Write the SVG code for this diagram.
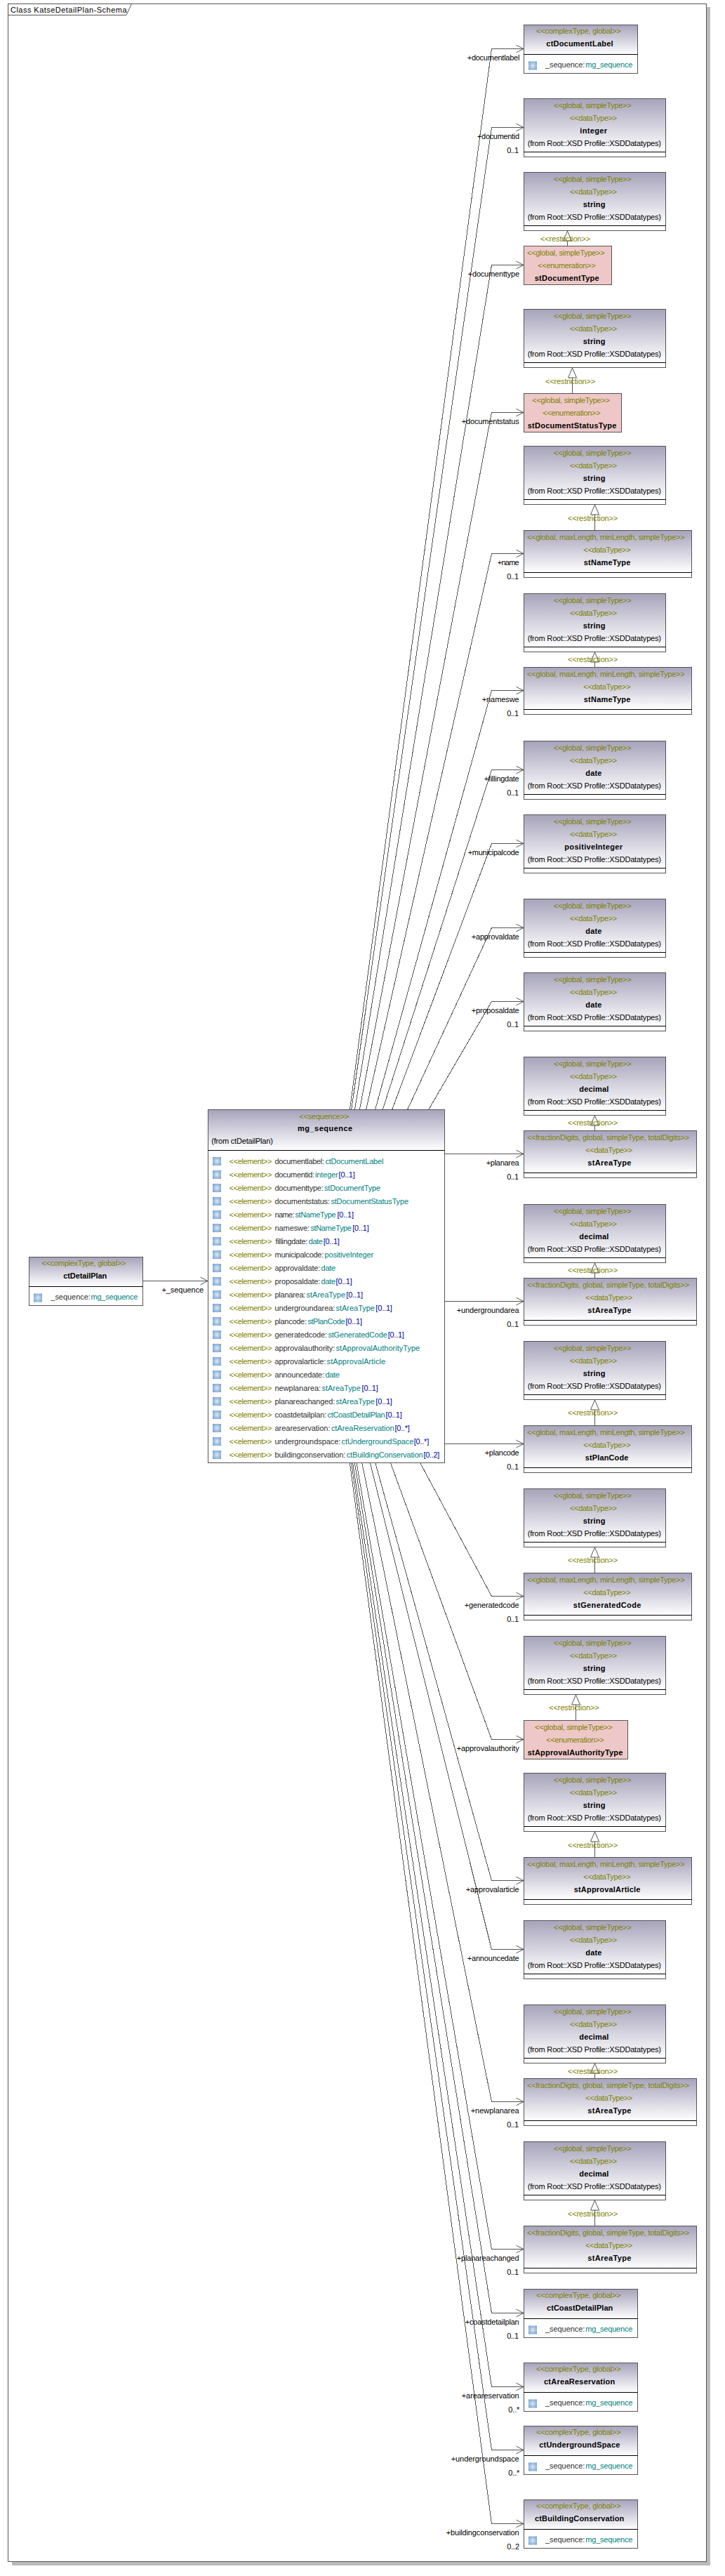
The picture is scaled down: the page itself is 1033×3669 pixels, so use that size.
<svg xmlns="http://www.w3.org/2000/svg" width="1033" height="3669" viewBox="0 0 1033 3669">
<style>
text{font-family:"Liberation Sans",Arial,sans-serif;font-size:11px;fill:#000}
.o{fill:#808000}.t{fill:#008080}.b{fill:#0000a0}.g{fill:#303030}.n{font-weight:bold}
.h{fill:url(#hdr);stroke:none}.r{fill:none;stroke:#555;stroke-width:1}.p{fill:#eec8c8;stroke:#555;stroke-width:1}
.s{stroke:#000;stroke-width:1}.i{fill:url(#ico);stroke:none;transform:translateY(.5px)}
.c{fill:none;stroke:#555;stroke-width:1;shape-rendering:crispEdges}.a{marker-end:url(#open)}.d{marker-end:url(#tri)}
</style>
<defs>
<linearGradient id="hdr" x1="0" y1="0" x2="0" y2="1"><stop offset="0" stop-color="#a6a3bb"/><stop offset="1" stop-color="#ffffff"/></linearGradient>
<radialGradient id="ico" cx=".5" cy=".5" r=".7"><stop offset="0" stop-color="#dbe7f4"/><stop offset="1" stop-color="#6a9ccf"/></radialGradient>
<marker id="open" markerUnits="userSpaceOnUse" markerWidth="14" markerHeight="14" refX="11" refY="7" orient="auto" overflow="visible"><path d="M0.5 1.7L11 7L0.5 12.3" fill="none" stroke="#555"/></marker>
<marker id="tri" markerUnits="userSpaceOnUse" markerWidth="16" markerHeight="16" refX="14" refY="7" orient="auto" overflow="visible"><path d="M14 7L0 1L0 13Z" fill="#fff" stroke="#555"/></marker>
</defs>
<g id="frame">
<rect x="1007" y="10" width="5" height="3644" fill="#bbb"/><rect x="17" y="3649" width="995" height="5" fill="#bbb"/>
<rect x="11.5" y="5.5" width="995" height="3643" fill="#fff" stroke="#555"/>
<path d="M11.5 21.5H180L187.5 5.5" fill="none" stroke="#555"/>
<text x="15" y="17.5" textLength="165.5">Class KatseDetailPlan-Schema</text>
</g>
<g id="connectors">
<path class="c a" d="M203.5 1824.5H296"/>
<path class="c a" d="M498.5 1580L700.5 69.5H746"/>
<path class="c a" d="M500.8 1580L700.5 181.5H746"/>
<path class="c a" d="M505.6 1580L700.5 377.5H746"/>
<path class="c a" d="M512.5 1580L700.5 587.5H746"/>
<path class="c a" d="M521.7 1580L700.5 788.5H746"/>
<path class="c a" d="M534.7 1580L700.5 983.5H746"/>
<path class="c a" d="M545.4 1580L700.5 1096.5H746"/>
<path class="c a" d="M558.8 1580L700.5 1201.5H746"/>
<path class="c a" d="M580.8 1580L700.5 1321.5H746"/>
<path class="c a" d="M610.9 1580L700.5 1426.5H746"/>
<path class="c a" d="M634 1643.5H746"/>
<path class="c a" d="M634 1853.5H746"/>
<path class="c a" d="M634 2056.5H746"/>
<path class="c a" d="M598.9 2084L700.5 2273.5H746"/>
<path class="c a" d="M556.6 2084L700.5 2477.5H746"/>
<path class="c a" d="M534.9 2084L700.5 2678.5H746"/>
<path class="c a" d="M527.6 2084L700.5 2776.5H746"/>
<path class="c a" d="M515.9 2084L700.5 2993.5H746"/>
<path class="c a" d="M508.1 2084L700.5 3203.5H746"/>
<path class="c a" d="M505.4 2084L700.5 3294.5H746"/>
<path class="c a" d="M502.7 2084L700.5 3399.5H746"/>
<path class="c a" d="M500.7 2084L700.5 3489.5H746"/>
<path class="c a" d="M498.5 2084L700.5 3594.5H746"/>
<path class="c d" d="M808.5 350V329"/>
<path class="c d" d="M815.5 560V524"/>
<path class="c d" d="M847.5 755V719"/>
<path class="c d" d="M847.5 950V929"/>
<path class="c d" d="M847.5 1610V1589"/>
<path class="c d" d="M847.5 1820V1799"/>
<path class="c d" d="M847.5 2030V1994"/>
<path class="c d" d="M847.5 2240V2204"/>
<path class="c d" d="M820.5 2450V2414"/>
<path class="c d" d="M847.5 2645V2609"/>
<path class="c d" d="M847.5 2960V2939"/>
<path class="c d" d="M847.5 3170V3134"/>
<text x="230.4" y="1840.7" textLength="59.8">+_sequence</text>
<text x="665.7" y="85.5" textLength="74.7">+documentlabel</text>
<text x="680" y="197.5" textLength="60">+documentid</text><text x="722.3" y="217.5" textLength="16.7">0..1</text>
<text x="666.7" y="393.5" textLength="73.3">+documenttype</text>
<text x="657.7" y="603.5" textLength="82">+documentstatus</text>
<text x="708.7" y="804.5" textLength="31">+name</text><text x="722.3" y="824.5" textLength="16.7">0..1</text>
<text x="686.7" y="999.5" textLength="53">+nameswe</text><text x="722.3" y="1019.5" textLength="16.7">0..1</text>
<text x="689.7" y="1112.5" textLength="50">+fillingdate</text><text x="722.3" y="1132.5" textLength="16.7">0..1</text>
<text x="666.7" y="1217.5" textLength="73">+municipalcode</text>
<text x="671.7" y="1337.5" textLength="68">+approvaldate</text>
<text x="671.7" y="1442.5" textLength="68">+proposaldate</text><text x="722.3" y="1462.5" textLength="16.7">0..1</text>
<text x="692.7" y="1659.5" textLength="47">+planarea</text><text x="722.3" y="1679.5" textLength="16.7">0..1</text>
<text x="650.7" y="1869.5" textLength="89">+undergroundarea</text><text x="722.3" y="1889.5" textLength="16.7">0..1</text>
<text x="690.7" y="2072.5" textLength="49">+plancode</text><text x="722.3" y="2092.5" textLength="16.7">0..1</text>
<text x="661.7" y="2289.5" textLength="78">+generatedcode</text><text x="722.3" y="2309.5" textLength="16.7">0..1</text>
<text x="650.7" y="2493.5" textLength="89">+approvalauthority</text>
<text x="663.7" y="2694.5" textLength="76">+approvalarticle</text>
<text x="665.7" y="2792.5" textLength="74">+announcedate</text>
<text x="670.7" y="3009.5" textLength="69">+newplanarea</text><text x="722.3" y="3029.5" textLength="16.7">0..1</text>
<text x="650.7" y="3219.5" textLength="89">+planareachanged</text><text x="722.3" y="3239.5" textLength="16.7">0..1</text>
<text x="662.7" y="3310.5" textLength="77">+coastdetailplan</text><text x="722.3" y="3330.5" textLength="16.7">0..1</text>
<text x="657.7" y="3415.5" textLength="82">+areareservation</text><text x="724.3" y="3435.5" textLength="16">0..*</text>
<text x="642.7" y="3505.5" textLength="97">+undergroundspace</text><text x="724.3" y="3525.5" textLength="16">0..*</text>
<text x="635.7" y="3610.5" textLength="104">+buildingconservation</text><text x="722.3" y="3630.5" textLength="17.7">0..2</text>
<text class="o" x="770" y="343.5" textLength="71.3">&lt;&lt;restriction&gt;&gt;</text>
<text class="o" x="777" y="546.5" textLength="71.3">&lt;&lt;restriction&gt;&gt;</text>
<text class="o" x="809" y="741.5" textLength="71.3">&lt;&lt;restriction&gt;&gt;</text>
<text class="o" x="809" y="943" textLength="71.3">&lt;&lt;restriction&gt;&gt;</text>
<text class="o" x="809" y="1603" textLength="71.3">&lt;&lt;restriction&gt;&gt;</text>
<text class="o" x="809" y="1813" textLength="71.3">&lt;&lt;restriction&gt;&gt;</text>
<text class="o" x="809" y="2016" textLength="71.3">&lt;&lt;restriction&gt;&gt;</text>
<text class="o" x="809" y="2226" textLength="71.3">&lt;&lt;restriction&gt;&gt;</text>
<text class="o" x="782.3" y="2436" textLength="71.3">&lt;&lt;restriction&gt;&gt;</text>
<text class="o" x="809" y="2631.5" textLength="71.3">&lt;&lt;restriction&gt;&gt;</text>
<text class="o" x="809" y="2953.5" textLength="71.3">&lt;&lt;restriction&gt;&gt;</text>
<text class="o" x="809" y="3156.5" textLength="71.3">&lt;&lt;restriction&gt;&gt;</text>
</g>
<g id="ctDetailPlan">
<rect x="41.5" y="1790.5" width="162" height="69" fill="#fff"/><rect class="h" x="41.5" y="1790.5" width="162" height="42"/><rect class="r" x="41.5" y="1790.5" width="162" height="69"/><path class="s" d="M41.5 1832.5H203.5"/>
<text class="o" x="59.4" y="1803.2" textLength="120.1">&lt;&lt;complexType, global&gt;&gt;</text>
<text class="n" x="90.2" y="1821.2" textLength="62">ctDetailPlan</text>
<rect class="i" x="48" y="1842" width="12" height="12"/>
<text class="g" x="72.3" y="1851.4" textLength="56.5">_sequence:</text><text class="t" x="129.5" y="1851.4" textLength="66.9">mg_sequence</text>
</g>
<g id="mg_sequence">
<rect x="296.5" y="1580.5" width="337" height="503" fill="#fff"/><rect class="h" x="296.5" y="1580.5" width="337" height="58"/><rect class="r" x="296.5" y="1580.5" width="337" height="503"/><path class="s" d="M296.5 1638.5H633.5"/>
<text class="o" x="426.3" y="1593.5" textLength="71">&lt;&lt;sequence&gt;&gt;</text>
<text class="n" x="424" y="1611" textLength="78.2">mg_sequence</text>
<text x="301.3" y="1629" textLength="87.5">(from ctDetailPlan)</text>
<g id="rows">
<rect class="i" x="303" y="1647.5" width="12" height="12"/><text class="o" x="326.8" y="1657.5" textLength="60.7">&lt;&lt;element&gt;&gt;</text><text class="g" x="391.5" y="1657.5" textLength="70.5">documentlabel:</text><text class="t" x="463.4" y="1657.5" textLength="83">ctDocumentLabel</text>
<rect class="i" x="303" y="1666.5" width="12" height="12"/><text class="o" x="326.8" y="1676.5" textLength="60.7">&lt;&lt;element&gt;&gt;</text><text class="g" x="391.5" y="1676.5" textLength="56.7">documentid:</text><text class="t" x="449" y="1676.5" textLength="33">integer</text><text class="b" x="482.6" y="1676.5" textLength="23.2">[0..1]</text>
<rect class="i" x="303" y="1685.5" width="12" height="12"/><text class="o" x="326.8" y="1695.5" textLength="60.7">&lt;&lt;element&gt;&gt;</text><text class="g" x="391.5" y="1695.5" textLength="69.2">documenttype:</text><text class="t" x="462" y="1695.5" textLength="80">stDocumentType</text>
<rect class="i" x="303" y="1704.5" width="12" height="12"/><text class="o" x="326.8" y="1714.5" textLength="60.7">&lt;&lt;element&gt;&gt;</text><text class="g" x="391.5" y="1714.5" textLength="78.5">documentstatus:</text><text class="t" x="471.4" y="1714.5" textLength="110.6">stDocumentStatusType</text>
<rect class="i" x="303" y="1723.5" width="12" height="12"/><text class="o" x="326.8" y="1733.5" textLength="60.7">&lt;&lt;element&gt;&gt;</text><text class="g" x="391.5" y="1733.5" textLength="27.7">name:</text><text class="t" x="420.5" y="1733.5" textLength="58.1">stNameType</text><text class="b" x="480.4" y="1733.5" textLength="23.6">[0..1]</text>
<rect class="i" x="303" y="1742.5" width="12" height="12"/><text class="o" x="326.8" y="1752.5" textLength="60.7">&lt;&lt;element&gt;&gt;</text><text class="g" x="391.5" y="1752.5" textLength="49.5">nameswe:</text><text class="t" x="442.4" y="1752.5" textLength="58.5">stNameType</text><text class="b" x="502.2" y="1752.5" textLength="23.7">[0..1]</text>
<rect class="i" x="303" y="1761.5" width="12" height="12"/><text class="o" x="326.8" y="1771.5" textLength="60.7">&lt;&lt;element&gt;&gt;</text><text class="g" x="392.4" y="1771.5" textLength="46">fillingdate:</text><text class="t" x="439.7" y="1771.5" textLength="20.1">date</text><text class="b" x="460.7" y="1771.5" textLength="23.2">[0..1]</text>
<rect class="i" x="303" y="1780.5" width="12" height="12"/><text class="o" x="326.8" y="1790.5" textLength="60.7">&lt;&lt;element&gt;&gt;</text><text class="g" x="391.5" y="1790.5" textLength="69.7">municipalcode:</text><text class="t" x="462.5" y="1790.5" textLength="69.6">positiveInteger</text>
<rect class="i" x="303" y="1799.5" width="12" height="12"/><text class="o" x="326.8" y="1809.5" textLength="60.7">&lt;&lt;element&gt;&gt;</text><text class="g" x="391.5" y="1809.5" textLength="64.8">approvaldate:</text><text class="t" x="457.6" y="1809.5" textLength="20.5">date</text>
<rect class="i" x="303" y="1818.5" width="12" height="12"/><text class="o" x="326.8" y="1828.5" textLength="60.7">&lt;&lt;element&gt;&gt;</text><text class="g" x="391.5" y="1828.5" textLength="64.8">proposaldate:</text><text class="t" x="457.6" y="1828.5" textLength="20.5">date</text><text class="b" x="478.6" y="1828.5" textLength="23.2">[0..1]</text>
<rect class="i" x="303" y="1837.5" width="12" height="12"/><text class="o" x="326.8" y="1847.5" textLength="60.7">&lt;&lt;element&gt;&gt;</text><text class="g" x="391.5" y="1847.5" textLength="43.8">planarea:</text><text class="t" x="436.6" y="1847.5" textLength="55.4">stAreaType</text><text class="b" x="493.3" y="1847.5" textLength="23.7">[0..1]</text>
<rect class="i" x="303" y="1856.5" width="12" height="12"/><text class="o" x="326.8" y="1866.5" textLength="60.7">&lt;&lt;element&gt;&gt;</text><text class="g" x="391.5" y="1866.5" textLength="85.7">undergroundarea:</text><text class="t" x="478.6" y="1866.5" textLength="55.3">stAreaType</text><text class="b" x="535.3" y="1866.5" textLength="23.6">[0..1]</text>
<rect class="i" x="303" y="1875.5" width="12" height="12"/><text class="o" x="326.8" y="1885.5" textLength="60.7">&lt;&lt;element&gt;&gt;</text><text class="g" x="391.5" y="1885.5" textLength="45.5">plancode:</text><text class="t" x="438.4" y="1885.5" textLength="53.1">stPlanCode</text><text class="b" x="492.4" y="1885.5" textLength="23.6">[0..1]</text>
<rect class="i" x="303" y="1894.5" width="12" height="12"/><text class="o" x="326.8" y="1904.5" textLength="60.7">&lt;&lt;element&gt;&gt;</text><text class="g" x="391.5" y="1904.5" textLength="74.5">generatedcode:</text><text class="t" x="467.4" y="1904.5" textLength="84.4">stGeneratedCode</text><text class="b" x="552.7" y="1904.5" textLength="23.2">[0..1]</text>
<rect class="i" x="303" y="1913.5" width="12" height="12"/><text class="o" x="326.8" y="1923.5" textLength="60.7">&lt;&lt;element&gt;&gt;</text><text class="g" x="391.5" y="1923.5" textLength="85.7">approvalauthority:</text><text class="t" x="478.6" y="1923.5" textLength="119.6">stApprovalAuthorityType</text>
<rect class="i" x="303" y="1932.5" width="12" height="12"/><text class="o" x="326.8" y="1942.5" textLength="60.7">&lt;&lt;element&gt;&gt;</text><text class="g" x="391.5" y="1942.5" textLength="72.8">approvalarticle:</text><text class="t" x="465.6" y="1942.5" textLength="83.5">stApprovalArticle</text>
<rect class="i" x="303" y="1951.5" width="12" height="12"/><text class="o" x="326.8" y="1961.5" textLength="60.7">&lt;&lt;element&gt;&gt;</text><text class="g" x="391.5" y="1961.5" textLength="70.5">announcedate:</text><text class="t" x="463.4" y="1961.5" textLength="20.5">date</text>
<rect class="i" x="303" y="1970.5" width="12" height="12"/><text class="o" x="326.8" y="1980.5" textLength="60.7">&lt;&lt;element&gt;&gt;</text><text class="g" x="391.5" y="1980.5" textLength="65.6">newplanarea:</text><text class="t" x="458.5" y="1980.5" textLength="55.3">stAreaType</text><text class="b" x="515.6" y="1980.5" textLength="23.2">[0..1]</text>
<rect class="i" x="303" y="1989.5" width="12" height="12"/><text class="o" x="326.8" y="1999.5" textLength="60.7">&lt;&lt;element&gt;&gt;</text><text class="g" x="391.5" y="1999.5" textLength="85.7">planareachanged:</text><text class="t" x="478.6" y="1999.5" textLength="55.3">stAreaType</text><text class="b" x="535.3" y="1999.5" textLength="23.6">[0..1]</text>
<rect class="i" x="303" y="2008.5" width="12" height="12"/><text class="o" x="326.8" y="2018.5" textLength="60.7">&lt;&lt;element&gt;&gt;</text><text class="g" x="391.5" y="2018.5" textLength="73.7">coastdetailplan:</text><text class="t" x="466.5" y="2018.5" textLength="82.2">ctCoastDetailPlan</text><text class="b" x="549.6" y="2018.5" textLength="23.2">[0..1]</text>
<rect class="i" x="303" y="2027.5" width="12" height="12"/><text class="o" x="326.8" y="2037.5" textLength="60.7">&lt;&lt;element&gt;&gt;</text><text class="g" x="391.5" y="2037.5" textLength="79">areareservation:</text><text class="t" x="471.9" y="2037.5" textLength="89.7">ctAreaReservation</text><text class="b" x="562.5" y="2037.5" textLength="21.4">[0..*]</text>
<rect class="i" x="303" y="2046.5" width="12" height="12"/><text class="o" x="326.8" y="2056.5" textLength="60.7">&lt;&lt;element&gt;&gt;</text><text class="g" x="391.5" y="2056.5" textLength="93.8">undergroundspace:</text><text class="t" x="486.6" y="2056.5" textLength="102.7">ctUndergroundSpace</text><text class="b" x="589.7" y="2056.5" textLength="21.5">[0..*]</text>
<rect class="i" x="303" y="2065.5" width="12" height="12"/><text class="o" x="326.8" y="2075.5" textLength="60.7">&lt;&lt;element&gt;&gt;</text><text class="g" x="391.5" y="2075.5" textLength="100.9">buildingconservation:</text><text class="t" x="493.8" y="2075.5" textLength="108.9">ctBuildingConservation</text><text class="b" x="603.6" y="2075.5" textLength="22.7">[0..2]</text>
</g>
</g>
<g id="ctDocumentLabel">
<rect x="746.5" y="35.5" width="162" height="69" fill="#fff"/><rect class="h" x="746.5" y="35.5" width="162" height="42"/><rect class="r" x="746.5" y="35.5" width="162" height="69"/><path class="s" d="M746.5 77.5H908.5"/>
<text class="o" x="764" y="48" textLength="120.7">&lt;&lt;complexType, global&gt;&gt;</text><text class="n" x="778.3" y="66" textLength="95.3">ctDocumentLabel</text>
<rect class="i" x="753" y="87" width="12" height="12"/><text class="g" x="777" y="96" textLength="56.3">_sequence:</text><text class="t" x="834.3" y="96" textLength="67">mg_sequence</text>
</g>
<g id="integer">
<rect x="746.5" y="140.5" width="202" height="83" fill="#fff"/><rect class="h" x="746.5" y="140.5" width="202" height="76"/><rect class="r" x="746.5" y="140.5" width="202" height="83"/><path class="s" d="M746.5 216.5H948.5"/>
<text class="o" x="789" y="153.5" textLength="110.7">&lt;&lt;global, simpleType&gt;&gt;</text><text class="o" x="812" y="171.5" textLength="67.3">&lt;&lt;dataType&gt;&gt;</text><text class="n" x="826.3" y="189.5" textLength="38.7">integer</text><text x="751.7" y="207.5" textLength="190.3">(from Root::XSD Profile::XSDDatatypes)</text>
</g>
<g id="string1">
<rect x="746.5" y="245.5" width="202" height="83" fill="#fff"/><rect class="h" x="746.5" y="245.5" width="202" height="76"/><rect class="r" x="746.5" y="245.5" width="202" height="83"/><path class="s" d="M746.5 321.5H948.5"/>
<text class="o" x="789" y="258.5" textLength="110.7">&lt;&lt;global, simpleType&gt;&gt;</text><text class="o" x="812" y="276.5" textLength="67.3">&lt;&lt;dataType&gt;&gt;</text><text class="n" x="830.7" y="294.5" textLength="31.7">string</text><text x="751.7" y="312.5" textLength="190.3">(from Root::XSD Profile::XSDDatatypes)</text>
</g>
<g id="stDocumentType">
<rect class="p" x="746.5" y="350.5" width="125" height="55"/>
<text class="o" x="751" y="363.5" textLength="110.7">&lt;&lt;global, simpleType&gt;&gt;</text><text class="o" x="766.3" y="381.5" textLength="82.3">&lt;&lt;enumeration&gt;&gt;</text><text class="n" x="761.7" y="399.5" textLength="92">stDocumentType</text>
</g>
<g id="string2">
<rect x="746.5" y="440.5" width="202" height="83" fill="#fff"/><rect class="h" x="746.5" y="440.5" width="202" height="76"/><rect class="r" x="746.5" y="440.5" width="202" height="83"/><path class="s" d="M746.5 516.5H948.5"/>
<text class="o" x="789" y="453.5" textLength="110.7">&lt;&lt;global, simpleType&gt;&gt;</text><text class="o" x="812" y="471.5" textLength="67.3">&lt;&lt;dataType&gt;&gt;</text><text class="n" x="830.7" y="489.5" textLength="31.7">string</text><text x="751.7" y="507.5" textLength="190.3">(from Root::XSD Profile::XSDDatatypes)</text>
</g>
<g id="stDocumentStatusType">
<rect class="p" x="746.5" y="560.5" width="139" height="55"/>
<text class="o" x="758.3" y="573.5" textLength="110.7">&lt;&lt;global, simpleType&gt;&gt;</text><text class="o" x="773.3" y="591.5" textLength="82.3">&lt;&lt;enumeration&gt;&gt;</text><text class="n" x="751.7" y="609.5" textLength="126.7">stDocumentStatusType</text>
</g>
<g id="string3">
<rect x="746.5" y="635.5" width="202" height="83" fill="#fff"/><rect class="h" x="746.5" y="635.5" width="202" height="76"/><rect class="r" x="746.5" y="635.5" width="202" height="83"/><path class="s" d="M746.5 711.5H948.5"/>
<text class="o" x="789" y="648.5" textLength="110.7">&lt;&lt;global, simpleType&gt;&gt;</text><text class="o" x="812" y="666.5" textLength="67.3">&lt;&lt;dataType&gt;&gt;</text><text class="n" x="830.7" y="684.5" textLength="31.7">string</text><text x="751.7" y="702.5" textLength="190.3">(from Root::XSD Profile::XSDDatatypes)</text>
</g>
<g id="stNameType1">
<rect x="746.5" y="755.5" width="239" height="67" fill="#fff"/><rect class="h" x="746.5" y="755.5" width="239" height="60"/><rect class="r" x="746.5" y="755.5" width="239" height="67"/><path class="s" d="M746.5 815.5H985.5"/>
<text class="o" x="751" y="768.5" textLength="224.7">&lt;&lt;global, maxLength, minLength, simpleType&gt;&gt;</text><text class="o" x="831.3" y="786.5" textLength="67.3">&lt;&lt;dataType&gt;&gt;</text><text class="n" x="831.7" y="804.5" textLength="66.7">stNameType</text>
</g>
<g id="string4">
<rect x="746.5" y="845.5" width="202" height="83" fill="#fff"/><rect class="h" x="746.5" y="845.5" width="202" height="76"/><rect class="r" x="746.5" y="845.5" width="202" height="83"/><path class="s" d="M746.5 921.5H948.5"/>
<text class="o" x="789" y="858.5" textLength="110.7">&lt;&lt;global, simpleType&gt;&gt;</text><text class="o" x="812" y="876.5" textLength="67.3">&lt;&lt;dataType&gt;&gt;</text><text class="n" x="830.7" y="894.5" textLength="31.7">string</text><text x="751.7" y="912.5" textLength="190.3">(from Root::XSD Profile::XSDDatatypes)</text>
</g>
<g id="stNameType2">
<rect x="746.5" y="950.5" width="239" height="67" fill="#fff"/><rect class="h" x="746.5" y="950.5" width="239" height="60"/><rect class="r" x="746.5" y="950.5" width="239" height="67"/><path class="s" d="M746.5 1010.5H985.5"/>
<text class="o" x="751" y="963.5" textLength="224.7">&lt;&lt;global, maxLength, minLength, simpleType&gt;&gt;</text><text class="o" x="831.3" y="981.5" textLength="67.3">&lt;&lt;dataType&gt;&gt;</text><text class="n" x="831.7" y="999.5" textLength="66.7">stNameType</text>
</g>
<g id="date1">
<rect x="746.5" y="1055.5" width="202" height="83" fill="#fff"/><rect class="h" x="746.5" y="1055.5" width="202" height="76"/><rect class="r" x="746.5" y="1055.5" width="202" height="83"/><path class="s" d="M746.5 1131.5H948.5"/>
<text class="o" x="789" y="1068.5" textLength="110.7">&lt;&lt;global, simpleType&gt;&gt;</text><text class="o" x="812" y="1086.5" textLength="67.3">&lt;&lt;dataType&gt;&gt;</text><text class="n" x="834.3" y="1104.5" textLength="23">date</text><text x="751.7" y="1122.5" textLength="190.3">(from Root::XSD Profile::XSDDatatypes)</text>
</g>
<g id="positiveInteger">
<rect x="746.5" y="1160.5" width="202" height="83" fill="#fff"/><rect class="h" x="746.5" y="1160.5" width="202" height="76"/><rect class="r" x="746.5" y="1160.5" width="202" height="83"/><path class="s" d="M746.5 1236.5H948.5"/>
<text class="o" x="789" y="1173.5" textLength="110.7">&lt;&lt;global, simpleType&gt;&gt;</text><text class="o" x="812" y="1191.5" textLength="67.3">&lt;&lt;dataType&gt;&gt;</text><text class="n" x="804.3" y="1209.5" textLength="82.7">positiveInteger</text><text x="751.7" y="1227.5" textLength="190.3">(from Root::XSD Profile::XSDDatatypes)</text>
</g>
<g id="date2">
<rect x="746.5" y="1280.5" width="202" height="83" fill="#fff"/><rect class="h" x="746.5" y="1280.5" width="202" height="76"/><rect class="r" x="746.5" y="1280.5" width="202" height="83"/><path class="s" d="M746.5 1356.5H948.5"/>
<text class="o" x="789" y="1293.5" textLength="110.7">&lt;&lt;global, simpleType&gt;&gt;</text><text class="o" x="812" y="1311.5" textLength="67.3">&lt;&lt;dataType&gt;&gt;</text><text class="n" x="834.3" y="1329.5" textLength="23">date</text><text x="751.7" y="1347.5" textLength="190.3">(from Root::XSD Profile::XSDDatatypes)</text>
</g>
<g id="date3">
<rect x="746.5" y="1385.5" width="202" height="83" fill="#fff"/><rect class="h" x="746.5" y="1385.5" width="202" height="76"/><rect class="r" x="746.5" y="1385.5" width="202" height="83"/><path class="s" d="M746.5 1461.5H948.5"/>
<text class="o" x="789" y="1398.5" textLength="110.7">&lt;&lt;global, simpleType&gt;&gt;</text><text class="o" x="812" y="1416.5" textLength="67.3">&lt;&lt;dataType&gt;&gt;</text><text class="n" x="834.3" y="1434.5" textLength="23">date</text><text x="751.7" y="1452.5" textLength="190.3">(from Root::XSD Profile::XSDDatatypes)</text>
</g>
<g id="decimal1">
<rect x="746.5" y="1505.5" width="202" height="83" fill="#fff"/><rect class="h" x="746.5" y="1505.5" width="202" height="76"/><rect class="r" x="746.5" y="1505.5" width="202" height="83"/><path class="s" d="M746.5 1581.5H948.5"/>
<text class="o" x="789" y="1518.5" textLength="110.7">&lt;&lt;global, simpleType&gt;&gt;</text><text class="o" x="812" y="1536.5" textLength="67.3">&lt;&lt;dataType&gt;&gt;</text><text class="n" x="825.3" y="1554.5" textLength="42">decimal</text><text x="751.7" y="1572.5" textLength="190.3">(from Root::XSD Profile::XSDDatatypes)</text>
</g>
<g id="stAreaType1">
<rect x="746.5" y="1610.5" width="246" height="67" fill="#fff"/><rect class="h" x="746.5" y="1610.5" width="246" height="60"/><rect class="r" x="746.5" y="1610.5" width="246" height="67"/><path class="s" d="M746.5 1670.5H992.5"/>
<text class="o" x="751" y="1623.5" textLength="231.3">&lt;&lt;fractionDigits, global, simpleType, totalDigits&gt;&gt;</text><text class="o" x="834.3" y="1641.5" textLength="67">&lt;&lt;dataType&gt;&gt;</text><text class="n" x="837.3" y="1659.5" textLength="62">stAreaType</text>
</g>
<g id="decimal2">
<rect x="746.5" y="1715.5" width="202" height="83" fill="#fff"/><rect class="h" x="746.5" y="1715.5" width="202" height="76"/><rect class="r" x="746.5" y="1715.5" width="202" height="83"/><path class="s" d="M746.5 1791.5H948.5"/>
<text class="o" x="789" y="1728.5" textLength="110.7">&lt;&lt;global, simpleType&gt;&gt;</text><text class="o" x="812" y="1746.5" textLength="67.3">&lt;&lt;dataType&gt;&gt;</text><text class="n" x="825.3" y="1764.5" textLength="42">decimal</text><text x="751.7" y="1782.5" textLength="190.3">(from Root::XSD Profile::XSDDatatypes)</text>
</g>
<g id="stAreaType2">
<rect x="746.5" y="1820.5" width="246" height="67" fill="#fff"/><rect class="h" x="746.5" y="1820.5" width="246" height="60"/><rect class="r" x="746.5" y="1820.5" width="246" height="67"/><path class="s" d="M746.5 1880.5H992.5"/>
<text class="o" x="751" y="1833.5" textLength="231.3">&lt;&lt;fractionDigits, global, simpleType, totalDigits&gt;&gt;</text><text class="o" x="834.3" y="1851.5" textLength="67">&lt;&lt;dataType&gt;&gt;</text><text class="n" x="837.3" y="1869.5" textLength="62">stAreaType</text>
</g>
<g id="string5">
<rect x="746.5" y="1910.5" width="202" height="83" fill="#fff"/><rect class="h" x="746.5" y="1910.5" width="202" height="76"/><rect class="r" x="746.5" y="1910.5" width="202" height="83"/><path class="s" d="M746.5 1986.5H948.5"/>
<text class="o" x="789" y="1923.5" textLength="110.7">&lt;&lt;global, simpleType&gt;&gt;</text><text class="o" x="812" y="1941.5" textLength="67.3">&lt;&lt;dataType&gt;&gt;</text><text class="n" x="830.7" y="1959.5" textLength="31.7">string</text><text x="751.7" y="1977.5" textLength="190.3">(from Root::XSD Profile::XSDDatatypes)</text>
</g>
<g id="stPlanCode">
<rect x="746.5" y="2030.5" width="239" height="67" fill="#fff"/><rect class="h" x="746.5" y="2030.5" width="239" height="60"/><rect class="r" x="746.5" y="2030.5" width="239" height="67"/><path class="s" d="M746.5 2090.5H985.5"/>
<text class="o" x="751" y="2043.5" textLength="224.7">&lt;&lt;global, maxLength, minLength, simpleType&gt;&gt;</text><text class="o" x="831.3" y="2061.5" textLength="67.3">&lt;&lt;dataType&gt;&gt;</text><text class="n" x="833.7" y="2079.5" textLength="61.7">stPlanCode</text>
</g>
<g id="string6">
<rect x="746.5" y="2120.5" width="202" height="83" fill="#fff"/><rect class="h" x="746.5" y="2120.5" width="202" height="76"/><rect class="r" x="746.5" y="2120.5" width="202" height="83"/><path class="s" d="M746.5 2196.5H948.5"/>
<text class="o" x="789" y="2133.5" textLength="110.7">&lt;&lt;global, simpleType&gt;&gt;</text><text class="o" x="812" y="2151.5" textLength="67.3">&lt;&lt;dataType&gt;&gt;</text><text class="n" x="830.7" y="2169.5" textLength="31.7">string</text><text x="751.7" y="2187.5" textLength="190.3">(from Root::XSD Profile::XSDDatatypes)</text>
</g>
<g id="stGeneratedCode">
<rect x="746.5" y="2240.5" width="239" height="67" fill="#fff"/><rect class="h" x="746.5" y="2240.5" width="239" height="60"/><rect class="r" x="746.5" y="2240.5" width="239" height="67"/><path class="s" d="M746.5 2300.5H985.5"/>
<text class="o" x="751" y="2253.5" textLength="224.7">&lt;&lt;global, maxLength, minLength, simpleType&gt;&gt;</text><text class="o" x="831.3" y="2271.5" textLength="67.3">&lt;&lt;dataType&gt;&gt;</text><text class="n" x="816.7" y="2289.5" textLength="96.7">stGeneratedCode</text>
</g>
<g id="string7">
<rect x="746.5" y="2330.5" width="202" height="83" fill="#fff"/><rect class="h" x="746.5" y="2330.5" width="202" height="76"/><rect class="r" x="746.5" y="2330.5" width="202" height="83"/><path class="s" d="M746.5 2406.5H948.5"/>
<text class="o" x="789" y="2343.5" textLength="110.7">&lt;&lt;global, simpleType&gt;&gt;</text><text class="o" x="812" y="2361.5" textLength="67.3">&lt;&lt;dataType&gt;&gt;</text><text class="n" x="830.7" y="2379.5" textLength="31.7">string</text><text x="751.7" y="2397.5" textLength="190.3">(from Root::XSD Profile::XSDDatatypes)</text>
</g>
<g id="stApprovalAuthorityType">
<rect class="p" x="746.5" y="2450.5" width="148" height="55"/>
<text class="o" x="762" y="2463.5" textLength="110.7">&lt;&lt;global, simpleType&gt;&gt;</text><text class="o" x="778.3" y="2481.5" textLength="82.3">&lt;&lt;enumeration&gt;&gt;</text><text class="n" x="751.7" y="2499.5" textLength="135.7">stApprovalAuthorityType</text>
</g>
<g id="string8">
<rect x="746.5" y="2525.5" width="202" height="83" fill="#fff"/><rect class="h" x="746.5" y="2525.5" width="202" height="76"/><rect class="r" x="746.5" y="2525.5" width="202" height="83"/><path class="s" d="M746.5 2601.5H948.5"/>
<text class="o" x="789" y="2538.5" textLength="110.7">&lt;&lt;global, simpleType&gt;&gt;</text><text class="o" x="812" y="2556.5" textLength="67.3">&lt;&lt;dataType&gt;&gt;</text><text class="n" x="830.7" y="2574.5" textLength="31.7">string</text><text x="751.7" y="2592.5" textLength="190.3">(from Root::XSD Profile::XSDDatatypes)</text>
</g>
<g id="stApprovalArticle">
<rect x="746.5" y="2645.5" width="239" height="67" fill="#fff"/><rect class="h" x="746.5" y="2645.5" width="239" height="60"/><rect class="r" x="746.5" y="2645.5" width="239" height="67"/><path class="s" d="M746.5 2705.5H985.5"/>
<text class="o" x="751" y="2658.5" textLength="224.7">&lt;&lt;global, maxLength, minLength, simpleType&gt;&gt;</text><text class="o" x="831.3" y="2676.5" textLength="67.3">&lt;&lt;dataType&gt;&gt;</text><text class="n" x="817.7" y="2694.5" textLength="94.7">stApprovalArticle</text>
</g>
<g id="date4">
<rect x="746.5" y="2735.5" width="202" height="83" fill="#fff"/><rect class="h" x="746.5" y="2735.5" width="202" height="76"/><rect class="r" x="746.5" y="2735.5" width="202" height="83"/><path class="s" d="M746.5 2811.5H948.5"/>
<text class="o" x="789" y="2748.5" textLength="110.7">&lt;&lt;global, simpleType&gt;&gt;</text><text class="o" x="812" y="2766.5" textLength="67.3">&lt;&lt;dataType&gt;&gt;</text><text class="n" x="834.3" y="2784.5" textLength="23">date</text><text x="751.7" y="2802.5" textLength="190.3">(from Root::XSD Profile::XSDDatatypes)</text>
</g>
<g id="decimal3">
<rect x="746.5" y="2855.5" width="202" height="83" fill="#fff"/><rect class="h" x="746.5" y="2855.5" width="202" height="76"/><rect class="r" x="746.5" y="2855.5" width="202" height="83"/><path class="s" d="M746.5 2931.5H948.5"/>
<text class="o" x="789" y="2868.5" textLength="110.7">&lt;&lt;global, simpleType&gt;&gt;</text><text class="o" x="812" y="2886.5" textLength="67.3">&lt;&lt;dataType&gt;&gt;</text><text class="n" x="825.3" y="2904.5" textLength="42">decimal</text><text x="751.7" y="2922.5" textLength="190.3">(from Root::XSD Profile::XSDDatatypes)</text>
</g>
<g id="stAreaType3">
<rect x="746.5" y="2960.5" width="246" height="67" fill="#fff"/><rect class="h" x="746.5" y="2960.5" width="246" height="60"/><rect class="r" x="746.5" y="2960.5" width="246" height="67"/><path class="s" d="M746.5 3020.5H992.5"/>
<text class="o" x="751" y="2973.5" textLength="231.3">&lt;&lt;fractionDigits, global, simpleType, totalDigits&gt;&gt;</text><text class="o" x="834.3" y="2991.5" textLength="67">&lt;&lt;dataType&gt;&gt;</text><text class="n" x="837.3" y="3009.5" textLength="62">stAreaType</text>
</g>
<g id="decimal4">
<rect x="746.5" y="3050.5" width="202" height="83" fill="#fff"/><rect class="h" x="746.5" y="3050.5" width="202" height="76"/><rect class="r" x="746.5" y="3050.5" width="202" height="83"/><path class="s" d="M746.5 3126.5H948.5"/>
<text class="o" x="789" y="3063.5" textLength="110.7">&lt;&lt;global, simpleType&gt;&gt;</text><text class="o" x="812" y="3081.5" textLength="67.3">&lt;&lt;dataType&gt;&gt;</text><text class="n" x="825.3" y="3099.5" textLength="42">decimal</text><text x="751.7" y="3117.5" textLength="190.3">(from Root::XSD Profile::XSDDatatypes)</text>
</g>
<g id="stAreaType4">
<rect x="746.5" y="3170.5" width="246" height="67" fill="#fff"/><rect class="h" x="746.5" y="3170.5" width="246" height="60"/><rect class="r" x="746.5" y="3170.5" width="246" height="67"/><path class="s" d="M746.5 3230.5H992.5"/>
<text class="o" x="751" y="3183.5" textLength="231.3">&lt;&lt;fractionDigits, global, simpleType, totalDigits&gt;&gt;</text><text class="o" x="834.3" y="3201.5" textLength="67">&lt;&lt;dataType&gt;&gt;</text><text class="n" x="837.3" y="3219.5" textLength="62">stAreaType</text>
</g>
<g id="ctCoastDetailPlan">
<rect x="746.5" y="3260.5" width="162" height="69" fill="#fff"/><rect class="h" x="746.5" y="3260.5" width="162" height="42"/><rect class="r" x="746.5" y="3260.5" width="162" height="69"/><path class="s" d="M746.5 3302.5H908.5"/>
<text class="o" x="764" y="3273" textLength="120.7">&lt;&lt;complexType, global&gt;&gt;</text><text class="n" x="779" y="3291" textLength="94.3">ctCoastDetailPlan</text>
<rect class="i" x="753" y="3312" width="12" height="12"/><text class="g" x="777" y="3321" textLength="56.3">_sequence:</text><text class="t" x="834.3" y="3321" textLength="67">mg_sequence</text>
</g>
<g id="ctAreaReservation">
<rect x="746.5" y="3365.5" width="162" height="69" fill="#fff"/><rect class="h" x="746.5" y="3365.5" width="162" height="42"/><rect class="r" x="746.5" y="3365.5" width="162" height="69"/><path class="s" d="M746.5 3407.5H908.5"/>
<text class="o" x="764" y="3378" textLength="120.7">&lt;&lt;complexType, global&gt;&gt;</text><text class="n" x="775" y="3396" textLength="101.3">ctAreaReservation</text>
<rect class="i" x="753" y="3417" width="12" height="12"/><text class="g" x="777" y="3426" textLength="56.3">_sequence:</text><text class="t" x="834.3" y="3426" textLength="67">mg_sequence</text>
</g>
<g id="ctUndergroundSpace">
<rect x="746.5" y="3455.5" width="162" height="69" fill="#fff"/><rect class="h" x="746.5" y="3455.5" width="162" height="42"/><rect class="r" x="746.5" y="3455.5" width="162" height="69"/><path class="s" d="M746.5 3497.5H908.5"/>
<text class="o" x="764" y="3468" textLength="120.7">&lt;&lt;complexType, global&gt;&gt;</text><text class="n" x="768.3" y="3486" textLength="115">ctUndergroundSpace</text>
<rect class="i" x="753" y="3507" width="12" height="12"/><text class="g" x="777" y="3516" textLength="56.3">_sequence:</text><text class="t" x="834.3" y="3516" textLength="67">mg_sequence</text>
</g>
<g id="ctBuildingConservation">
<rect x="746.5" y="3560.5" width="162" height="69" fill="#fff"/><rect class="h" x="746.5" y="3560.5" width="162" height="42"/><rect class="r" x="746.5" y="3560.5" width="162" height="69"/><path class="s" d="M746.5 3602.5H908.5"/>
<text class="o" x="764" y="3573" textLength="120.7">&lt;&lt;complexType, global&gt;&gt;</text><text class="n" x="762" y="3591" textLength="127.3">ctBuildingConservation</text>
<rect class="i" x="753" y="3612" width="12" height="12"/><text class="g" x="777" y="3621" textLength="56.3">_sequence:</text><text class="t" x="834.3" y="3621" textLength="67">mg_sequence</text>
</g>
</svg>
